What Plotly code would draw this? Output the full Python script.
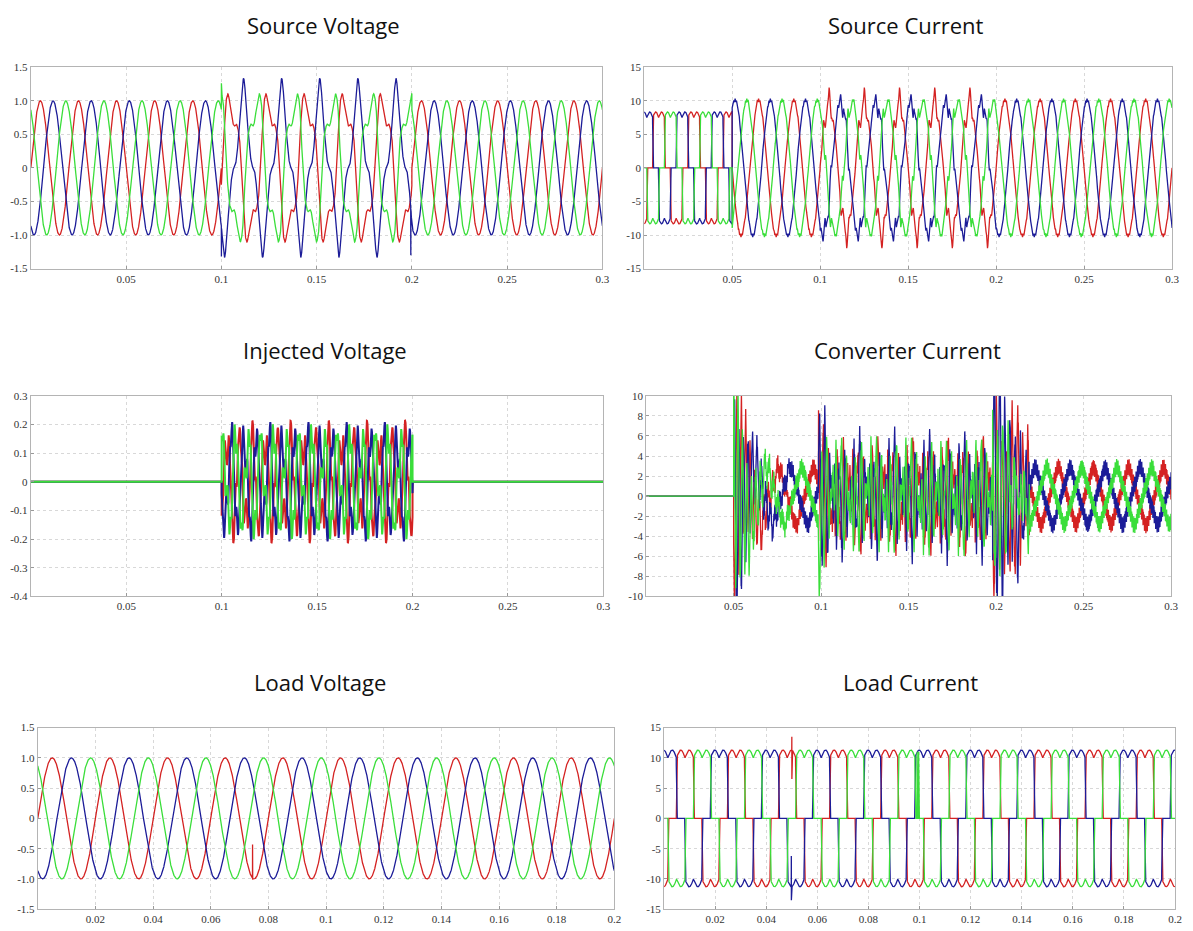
import numpy as np
import plotly.graph_objects as go

# ------------------------------------------------------------------
# DATA
# ------------------------------------------------------------------
freq_hz = 50.0
phase_names = ["Phase a", "Phase b", "Phase c"]
phase_shift_deg = [0.0, -120.0, 120.0]          # red, blue, green
sample_step = 2.5e-5
span_long = 0.3
span_short = 0.2

# Source voltage
sv_fund_amp = [1.0, 1.0, 1.0]
sv_sag_window = [0.1, 0.2]
sv_harm_order = [3, 5, 7, 11, 13]
sv_harm_amp = [0.28, 0.02, 0.015, 0.01, 0.008]
sv_harm_phase_deg = [-60.0, -120.0, 180.0, 60.0, 0.0]
sv_spike_phase = [2, 1, 1]
sv_spike_time = [0.1000, 0.1000, 0.1994]
sv_spike_values = [[1.05, 1.26, 1.18, 1.05], [-1.0, -1.32, -1.1, -1.25, -1.05], [-1.1, -1.3, -1.2]]

# Injected voltage (sag distortion share + extra switching content)
iv_sag_share = 0.55
iv_extra_order = [5, 7, 11, 17]
iv_extra_amp = [0.045, 0.04, 0.03, 0.015]
iv_extra_phase_deg = [40.0, -70.0, 120.0, 10.0]

# Source current
sc_segment_edges = [0.0, 0.05, 0.1, 0.2, 0.3]
sc_block_level = 7.5
sc_block_ripple = 0.85
sc_block_centre_s = [0.0082, 0.0215, 0.0149]
sc_fund_amp = [0.0, 10.1, 9.8, 10.1]
sc_dist_order = [5, 7, 11, 13]
sc_dist_amp = [0.9, 0.7, 0.45, 0.3]
sc_dist_phase_deg = [0.0, 180.0, 90.0, -30.0]
sc_ripple_amp = 0.22
sc_ripple_freq = 1250.0

# Converter current
cc_start = 0.05
cc_tri_order = [1, 3, 5]
cc_tri_amp = [2.5, -0.28, 0.1]
cc_tri_phase_deg = 168.0
cc_dense_window = [0.1, 0.219]
cc_tri_scale_dense = 0.35
cc_dense_order = [5, 7, 11, 13]
cc_dense_amp = [2.0, 2.9, 1.2, 0.8]
cc_dense_phase_deg = [30.0, -40.0, 75.0, 160.0]
cc_ripple_freq = [2450.0, 3710.0]
cc_ripple_amp = [0.55, 0.3]
cc_trans_start = [0.05, 0.0985, 0.198]
cc_trans_end = [0.1, 0.2, 0.219]
cc_trans_amp = [12.0, 8.0, 10.5]
cc_trans_tau = [0.009, 0.003, 0.014]
cc_trans_freq = [390.0, 310.0, 330.0]
cc_trans_phase_deg = [[200.0, 20.0, 110.0], [120.0, 30.0, 214.0], [212.0, 333.0, 90.0]]

# Load voltage
lv_amp = [1.0, 1.0, 1.0]
lv_spike_phase = [0]
lv_spike_time = [0.0745]
lv_spike_values = [[-0.43, -0.7, -1.0]]

# Load current
lc_block_level = 10.0
lc_block_ripple = 1.3
lc_block_centre_s = [0.0082, 0.0215, 0.0149]
lc_spike_phase = [0, 1, 2, 2]
lc_spike_time = [0.0500, 0.0498, 0.0990, 0.0996]
lc_spike_values = [[13.5, 6.5, 12.0, 11.0], [-6.2, -13.5, -9.0, -11.0],
                   [0.0, 11.0, 0.0], [0.0, 11.0, 0.0, 11.0]]

# Axis ticks
x_long_ticks = [0.05, 0.1, 0.15, 0.2, 0.25, 0.3]
x_long_text = ["0.05", "0.1", "0.15", "0.2", "0.25", "0.3"]
x_short_ticks = [0.02, 0.04, 0.06, 0.08, 0.1, 0.12, 0.14, 0.16, 0.18, 0.2]
x_short_text = ["0.02", "0.04", "0.06", "0.08", "0.1", "0.12", "0.14", "0.16", "0.18", "0.2"]
y_volt_ticks = [-1.5, -1.0, -0.5, 0, 0.5, 1.0, 1.5]
y_volt_text = ["-1.5", "-1.0", "-0.5", "0", "0.5", "1.0", "1.5"]
y_cur15_ticks = [-15, -10, -5, 0, 5, 10, 15]
y_cur15_text = ["-15", "-10", "-5", "0", "5", "10", "15"]
y_inj_ticks = [-0.4, -0.3, -0.2, -0.1, 0, 0.1, 0.2, 0.3]
y_inj_text = ["-0.4", "-0.3", "-0.2", "-0.1", "0", "0.1", "0.2", "0.3"]
y_conv_ticks = [-10, -8, -6, -4, -2, 0, 2, 4, 6, 8, 10]
y_conv_text = ["-10", "-8", "-6", "-4", "-2", "0", "2", "4", "6", "8", "10"]

titles = ["Source Voltage", "Source Current", "Injected Voltage",
          "Converter Current", "Load Voltage", "Load Current"]

# ------------------------------------------------------------------
# STYLE
# ------------------------------------------------------------------
phase_colors = ["#d42222", "#1c1c98", "#3ade3a"]
W, H = 1193, 931
# plot-area pixel boxes: x0, x1, y0, y1
boxes = [(31, 606, 62, 266), (648, 1179, 62, 266),
         (31, 607, 395, 598), (650, 1178, 395, 598),
         (38, 618, 731, 915), (668, 1182, 731, 915)]
title_pos = [(325, 19), (911, 19), (327, 348), (913, 348), (322, 685), (916, 685)]

# ------------------------------------------------------------------
# SIGNAL CONSTRUCTION
# ------------------------------------------------------------------
t_long = np.arange(0.0, span_long + sample_step / 2, sample_step)
t_short = np.arange(0.0, span_short + sample_step / 2, sample_step)


def base_angle(t):
    return 2 * np.pi * freq_hz * t


def phase_angle(t, k):
    return base_angle(t) + np.deg2rad(phase_shift_deg[k])


def harmonic_sum(t, k, orders, amps, phases_deg):
    a = base_angle(t)
    s = np.deg2rad(phase_shift_deg[k])
    out = np.zeros_like(t)
    for n, h, c in zip(orders, amps, phases_deg):
        out += h * np.sin(n * a + np.deg2rad(c) + s)
    return out


def quasi_square(t, centre, level, ripple, w=0.008):
    p = ((t - centre) * freq_hz + 0.5) % 1.0 - 0.5
    a = np.abs(p)
    pos = np.clip((1 / 6 - a) / w + 0.5, 0, 1)
    neg = np.clip((a - 1 / 3) / w + 0.5, 0, 1)
    hump = np.abs(np.sin(6 * np.pi * (p + 1 / 6)))
    return (pos - neg) * (level + ripple * hump)


def apply_spikes(t, y, k, phases, times, values):
    for ph, ts, vals in zip(phases, times, values):
        if ph != k:
            continue
        i = int(round(ts / sample_step))
        y[i:i + len(vals)] = vals
    return y


def in_window(t, w):
    return (t >= w[0]) & (t < w[1])


# Source voltage & injected voltage
sv, iv = [], []
sag = in_window(t_long, sv_sag_window)
for k in range(3):
    d = harmonic_sum(t_long, k, sv_harm_order, sv_harm_amp, sv_harm_phase_deg)
    y = sv_fund_amp[k] * np.sin(phase_angle(t_long, k)) + np.where(sag, d, 0.0)
    y = apply_spikes(t_long, y, k, sv_spike_phase, sv_spike_time, sv_spike_values)
    sv.append(y)
    e = harmonic_sum(t_long, k, iv_extra_order, iv_extra_amp, iv_extra_phase_deg)
    iv.append(np.where(sag, iv_sag_share * d + e, 0.0))

# Source current
sc = []
for k in range(3):
    th = phase_angle(t_long, k)
    seg = np.digitize(t_long, sc_segment_edges[1:-1])
    block = quasi_square(t_long, sc_block_centre_s[k], sc_block_level, sc_block_ripple)
    fund = np.array(sc_fund_amp)[seg] * np.sin(th)
    dist = harmonic_sum(t_long, k, sc_dist_order, sc_dist_amp, sc_dist_phase_deg)
    rip = sc_ripple_amp * np.sin(2 * np.pi * sc_ripple_freq * t_long + np.deg2rad(phase_shift_deg[k]))
    y = np.where(seg == 0, block, fund + rip)
    y = np.where(seg == 2, y + dist, y)
    sc.append(y)

# Converter current
cc = []
dense = in_window(t_long, cc_dense_window)
for k in range(3):
    th = phase_angle(t_long, k) + np.deg2rad(cc_tri_phase_deg)
    tri = np.zeros_like(t_long)
    for n, a in zip(cc_tri_order, cc_tri_amp):
        tri += a * np.sin(n * th)
    tri *= np.where(dense, cc_tri_scale_dense, 1.0)
    dd = harmonic_sum(t_long, k, cc_dense_order, cc_dense_amp, cc_dense_phase_deg)
    rip = np.zeros_like(t_long)
    for j, (f, a) in enumerate(zip(cc_ripple_freq, cc_ripple_amp)):
        rip += a * np.sin(2 * np.pi * f * t_long + 1.7 * k + j)
    y = tri + np.where(dense, dd, 0.0) + rip
    for s, e_, A, tau, f, ph in zip(cc_trans_start, cc_trans_end, cc_trans_amp,
                                    cc_trans_tau, cc_trans_freq, cc_trans_phase_deg):
        m = (t_long >= s) & (t_long < e_)
        dt = t_long - s
        y = y + np.where(m, A * np.exp(-dt / tau) * np.sin(2 * np.pi * f * dt + np.deg2rad(ph[k])), 0.0)
    y = np.where(t_long < cc_start, 0.0, y)
    cc.append(y)

# Load voltage
lv = []
for k in range(3):
    y = lv_amp[k] * np.sin(phase_angle(t_short, k))
    y = apply_spikes(t_short, y, k, lv_spike_phase, lv_spike_time, lv_spike_values)
    lv.append(y)

# Load current
lc = []
for k in range(3):
    y = quasi_square(t_short, lc_block_centre_s[k], lc_block_level, lc_block_ripple)
    y = apply_spikes(t_short, y, k, lc_spike_phase, lc_spike_time, lc_spike_values)
    lc.append(y)

# ------------------------------------------------------------------
# FIGURE
# ------------------------------------------------------------------
panels = [
    (t_long, sv, [0, 0.3], [-1.5, 1.5], x_long_ticks, x_long_text, y_volt_ticks, y_volt_text, 1.3),
    (t_long, sc, [0, 0.3], [-15, 15], x_long_ticks, x_long_text, y_cur15_ticks, y_cur15_text, 1.3),
    (t_long, iv, [0, 0.3], [-0.4, 0.3], x_long_ticks, x_long_text, y_inj_ticks, y_inj_text, 2.0),
    (t_long, cc, [0, 0.3], [-10, 10], x_long_ticks, x_long_text, y_conv_ticks, y_conv_text, 1.3),
    (t_short, lv, [0, 0.2], [-1.5, 1.5], x_short_ticks, x_short_text, y_volt_ticks, y_volt_text, 1.3),
    (t_short, lc, [0, 0.2], [-15, 15], x_short_ticks, x_short_text, y_cur15_ticks, y_cur15_text, 1.3),
]

fig = go.Figure()
layout_axes = {}
tickfont = dict(family="Liberation Serif, Times New Roman, serif", size=11, color="#333333")
for i, (t, series, xr, yr, xt, xtt, yt, ytt, lw) in enumerate(panels):
    n = i + 1
    xa = "x" if n == 1 else f"x{n}"
    ya = "y" if n == 1 else f"y{n}"
    for k in range(3):
        fig.add_trace(go.Scatter(x=t, y=series[k], mode="lines", name=phase_names[k],
                                 line=dict(color=phase_colors[k], width=lw),
                                 xaxis=xa, yaxis=ya, showlegend=False, hoverinfo="skip"))
    x0, x1, y0, y1 = boxes[i]
    common = dict(showline=True, mirror=True, linecolor="#b4b4b4", linewidth=1,
                  showgrid=True, gridcolor="#d8d8d8", griddash="dot", gridwidth=1,
                  zeroline=False, ticks="inside", ticklen=3, tickcolor="#999999",
                  tickfont=tickfont)
    layout_axes["xaxis" if n == 1 else f"xaxis{n}"] = dict(
        domain=[x0 / W, x1 / W], range=xr, anchor=ya, tickvals=xt, ticktext=xtt, **common)
    layout_axes["yaxis" if n == 1 else f"yaxis{n}"] = dict(
        domain=[1 - y1 / H, 1 - y0 / H], range=yr, anchor=xa, tickvals=yt, ticktext=ytt, **common)

annotations = []
for (tx, ty), txt in zip(title_pos, titles):
    annotations.append(dict(text=txt, x=tx / W, y=1 - ty / H, xref="paper", yref="paper",
                            xanchor="center", yanchor="middle", showarrow=False,
                            font=dict(family="Open Sans, sans-serif", size=22, color="#111111")))

fig.update_layout(width=W, height=H, margin=dict(l=0, r=0, t=0, b=0),
                  paper_bgcolor="white", plot_bgcolor="white", showlegend=False,
                  annotations=annotations, **layout_axes)

fig.write_html("out.html", config={"displayModeBar": False, "staticPlot": True},
               post_script="document.body.style.margin='0px';document.body.style.overflow='hidden';")
